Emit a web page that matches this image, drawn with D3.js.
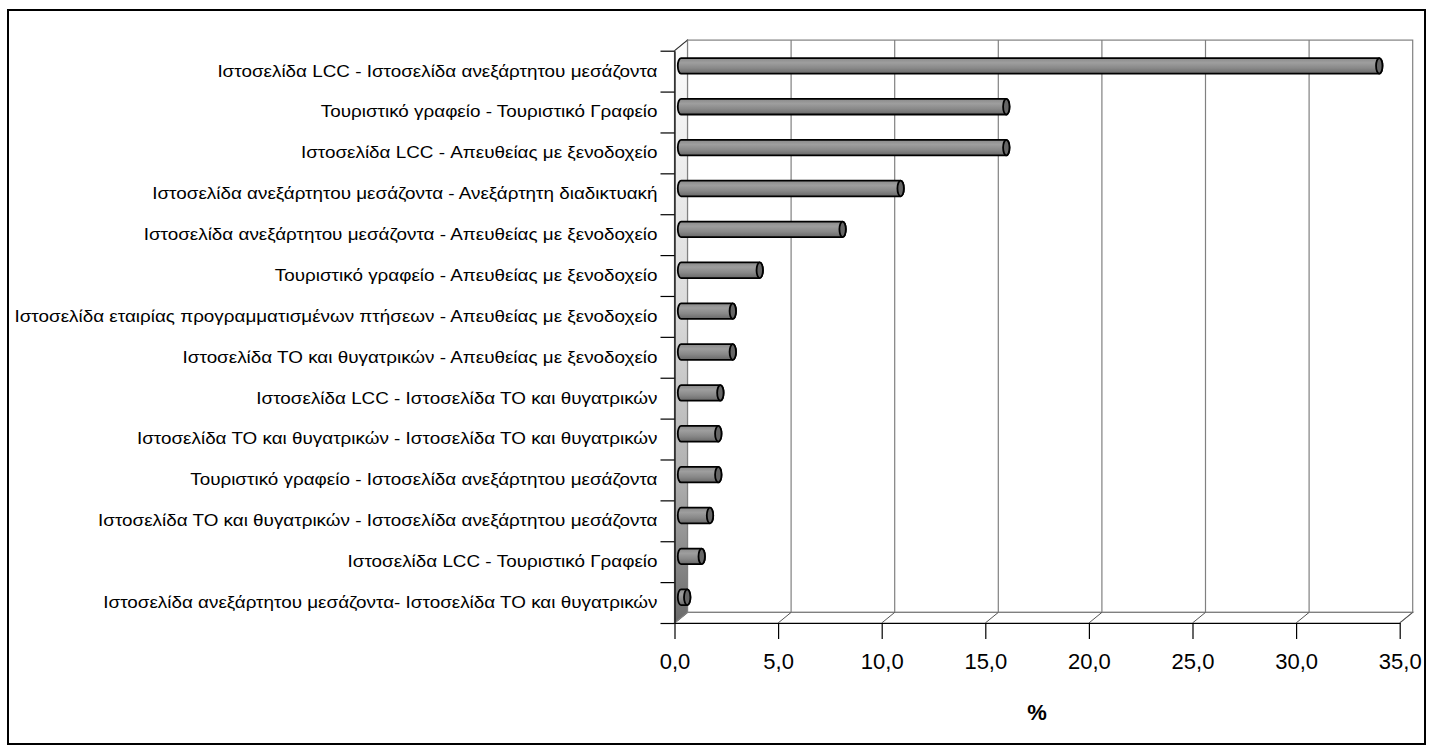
<!DOCTYPE html>
<html>
<head>
<meta charset="utf-8">
<script src="https://cdn.jsdelivr.net/npm/d3@7"></script>
<style>
  body { margin: 0; background: #fff; }
  svg { display: block; font-family: "Liberation Sans", Arial, sans-serif; }
</style>
</head>
<body>
<div id="chart"></div>
<script>
// data
var categories = [
  "Ιστοσελίδα LCC - Ιστοσελίδα ανεξάρτητου μεσάζοντα",
  "Τουριστικό γραφείο - Τουριστικό Γραφείο",
  "Ιστοσελίδα LCC - Απευθείας με ξενοδοχείο",
  "Ιστοσελίδα ανεξάρτητου μεσάζοντα - Ανεξάρτητη διαδικτυακή",
  "Ιστοσελίδα ανεξάρτητου μεσάζοντα - Απευθείας με ξενοδοχείο",
  "Τουριστικό γραφείο - Απευθείας με ξενοδοχείο",
  "Ιστοσελίδα εταιρίας προγραμματισμένων πτήσεων - Απευθείας με ξενοδοχείο",
  "Ιστοσελίδα ΤΟ και θυγατρικών - Απευθείας με ξενοδοχείο",
  "Ιστοσελίδα LCC - Ιστοσελίδα ΤΟ και θυγατρικών",
  "Ιστοσελίδα ΤΟ και θυγατρικών - Ιστοσελίδα ΤΟ και θυγατρικών",
  "Τουριστικό γραφείο - Ιστοσελίδα ανεξάρτητου μεσάζοντα",
  "Ιστοσελίδα ΤΟ και θυγατρικών - Ιστοσελίδα ανεξάρτητου μεσάζοντα",
  "Ιστοσελίδα LCC - Τουριστικό Γραφείο",
  "Ιστοσελίδα ανεξάρτητου μεσάζοντα- Ιστοσελίδα ΤΟ και θυγατρικών"
];
var values = [33.7, 15.7, 15.7, 10.6, 7.8, 3.8, 2.5, 2.5, 1.9, 1.8, 1.8, 1.4, 1.0, 0.3];
var xTicks = [0, 5, 10, 15, 20, 25, 30, 35];
var xTitle = "%";

var W = 1431, H = 747;
var depthX = 13, depthY = -10.6;   // 3d offset of the back wall

var svg = d3.select("#chart").append("svg")
  .attr("width", W)
  .attr("height", H);

// outer frame
svg.append("rect")
  .attr("x", 8).attr("y", 10)
  .attr("width", 1417).attr("height", 734)
  .attr("fill", "#fff")
  .attr("stroke", "#000")
  .attr("stroke-width", 2);

var x = d3.scaleLinear().domain([0, 35]).range([674.5, 1399.7]);
var y = d3.scaleBand().domain(categories).range([50.7, 623]);
var yIdx = d3.scaleLinear().domain([0, categories.length]).range([50.7, 623]);

var x0 = x(0), x1 = x(35), yTop = y.range()[0], yBot = y.range()[1];

var fmt = d3.formatLocale({decimal: ",", thousands: ".", grouping: [3], currency: ["", ""]}).format(".1f");

var defs = svg.append("defs");

var wallGrad = defs.append("linearGradient")
  .attr("id", "wallGrad").attr("x1", 0).attr("y1", 0).attr("x2", 0).attr("y2", 1);
wallGrad.selectAll("stop")
  .data([[0, "#fcfcfc"], [0.45, "#dcdcdc"], [0.75, "#b0b0b0"], [1, "#6a6a6a"]])
  .join("stop")
  .attr("offset", function(d) { return d[0]; })
  .attr("stop-color", function(d) { return d[1]; });

var barGrad = defs.append("linearGradient")
  .attr("id", "barGrad").attr("x1", 0).attr("y1", 0).attr("x2", 0).attr("y2", 1);
barGrad.selectAll("stop")
  .data([[0, "#8a8a8a"], [0.3, "#9e9e9e"], [0.65, "#888"], [1, "#686868"]])
  .join("stop")
  .attr("offset", function(d) { return d[0]; })
  .attr("stop-color", function(d) { return d[1]; });

// back wall
svg.append("rect")
  .attr("x", x0 + depthX).attr("y", yTop + depthY)
  .attr("width", x1 - x0).attr("height", yBot - yTop)
  .attr("fill", "#fff")
  .attr("stroke", "#808080")
  .attr("stroke-width", 1.2);

// gridlines on back wall
svg.append("g")
  .selectAll("line")
  .data(xTicks.slice(1, -1))
  .join("line")
  .attr("x1", function(d) { return x(d) + depthX; })
  .attr("x2", function(d) { return x(d) + depthX; })
  .attr("y1", yTop + depthY)
  .attr("y2", yBot + depthY)
  .attr("stroke", "#808080")
  .attr("stroke-width", 1.2);

// floor
svg.append("path")
  .attr("d", "M" + x0 + "," + yBot + "L" + x1 + "," + yBot +
    "L" + (x1 + depthX) + "," + (yBot + depthY) + "L" + (x0 + depthX) + "," + (yBot + depthY) + "Z")
  .attr("fill", "#fff")
  .attr("stroke", "#808080")
  .attr("stroke-width", 1.2);

svg.append("g")
  .selectAll("line")
  .data(xTicks)
  .join("line")
  .attr("x1", function(d) { return x(d); })
  .attr("x2", function(d) { return x(d) + depthX; })
  .attr("y1", yBot)
  .attr("y2", yBot + depthY)
  .attr("stroke", "#555")
  .attr("stroke-width", 1);

// left wall
svg.append("path")
  .attr("d", "M" + x0 + "," + yTop + "L" + (x0 + depthX) + "," + (yTop + depthY) +
    "L" + (x0 + depthX) + "," + (yBot + depthY) + "L" + x0 + "," + yBot + "Z")
  .attr("fill", "url(#wallGrad)")
  .attr("stroke", "#808080")
  .attr("stroke-width", 1.2);

svg.append("line")
  .attr("x1", x0).attr("y1", yTop)
  .attr("x2", x0 + depthX).attr("y2", yTop + depthY)
  .attr("stroke", "#333");

// bars (cylinders)
var r = 7.8, rx = 3.2;
var bars = svg.append("g")
  .selectAll("g")
  .data(categories.map(function(c, i) { return {cat: c, val: values[i]}; }))
  .join("g");

bars.append("path")
  .attr("d", function(d) {
    var a = x(0) + depthX / 2, b = x(d.val) + depthX / 2;
    var cy = y(d.cat) + y.bandwidth() / 2 + depthY / 2;
    return "M" + a + "," + (cy - r) + "L" + b + "," + (cy - r) +
      "A" + rx + "," + r + " 0 0 1 " + b + "," + (cy + r) +
      "L" + a + "," + (cy + r) +
      "A" + rx + "," + r + " 0 0 1 " + a + "," + (cy - r) + "Z";
  })
  .attr("fill", "url(#barGrad)")
  .attr("stroke", "#000")
  .attr("stroke-width", 1.8);

bars.append("ellipse")
  .attr("cx", function(d) { return x(d.val) + depthX / 2; })
  .attr("cy", function(d) { return y(d.cat) + y.bandwidth() / 2 + depthY / 2; })
  .attr("rx", rx)
  .attr("ry", r)
  .attr("fill", "#666")
  .attr("stroke", "#000")
  .attr("stroke-width", 1.8);

// x axis
var xAxis = svg.append("g")
  .attr("transform", "translate(0," + yBot + ")")
  .call(d3.axisBottom(x).tickValues(xTicks).tickSize(16).tickSizeOuter(0).tickFormat(fmt));
xAxis.select(".domain").attr("stroke", "#000").attr("stroke-width", 1.2);
xAxis.selectAll(".tick line").attr("stroke", "#000").attr("stroke-width", 1.2);
xAxis.selectAll(".tick text")
  .attr("y", 46).attr("dy", 0)
  .attr("fill", "#000")
  .style("font-size", "22px")
  .style("font-family", "'Liberation Sans', Arial, sans-serif");

svg.append("text")
  .attr("x", (x0 + x1) / 2)
  .attr("y", 720)
  .attr("text-anchor", "middle")
  .style("font-size", "22px")
  .style("font-weight", "bold")
  .text(xTitle);

// y axis: boundary ticks
var yTicksG = svg.append("g")
  .attr("transform", "translate(" + x0 + ",0)")
  .call(d3.axisLeft(yIdx).ticks(categories.length).tickSize(14).tickSizeOuter(0).tickFormat(""));
yTicksG.select(".domain").attr("stroke", "#000").attr("stroke-width", 1.2);
yTicksG.selectAll(".tick line").attr("stroke", "#000").attr("stroke-width", 1.2);

// y axis: labels (the source font is drawn a bit wider than Arial)
var yLabels = svg.append("g")
  .attr("transform", "translate(" + x0 + ",0)")
  .call(d3.axisLeft(y).tickSize(0).tickPadding(17));
yLabels.select(".domain").remove();
yLabels.selectAll(".tick text")
  .attr("fill", "#000")
  .style("font-size", "17px")
  .style("font-family", "'Liberation Sans', Arial, sans-serif");

var widest = d3.max(yLabels.selectAll(".tick text").nodes(), function(n) { return n.getComputedTextLength(); });
var stretch = 643 / widest;
yLabels.selectAll(".tick text").each(function() {
  var w = this.getComputedTextLength();
  d3.select(this)
    .attr("textLength", w * stretch)
    .attr("lengthAdjust", "spacingAndGlyphs");
});
</script>
</body>
</html>
